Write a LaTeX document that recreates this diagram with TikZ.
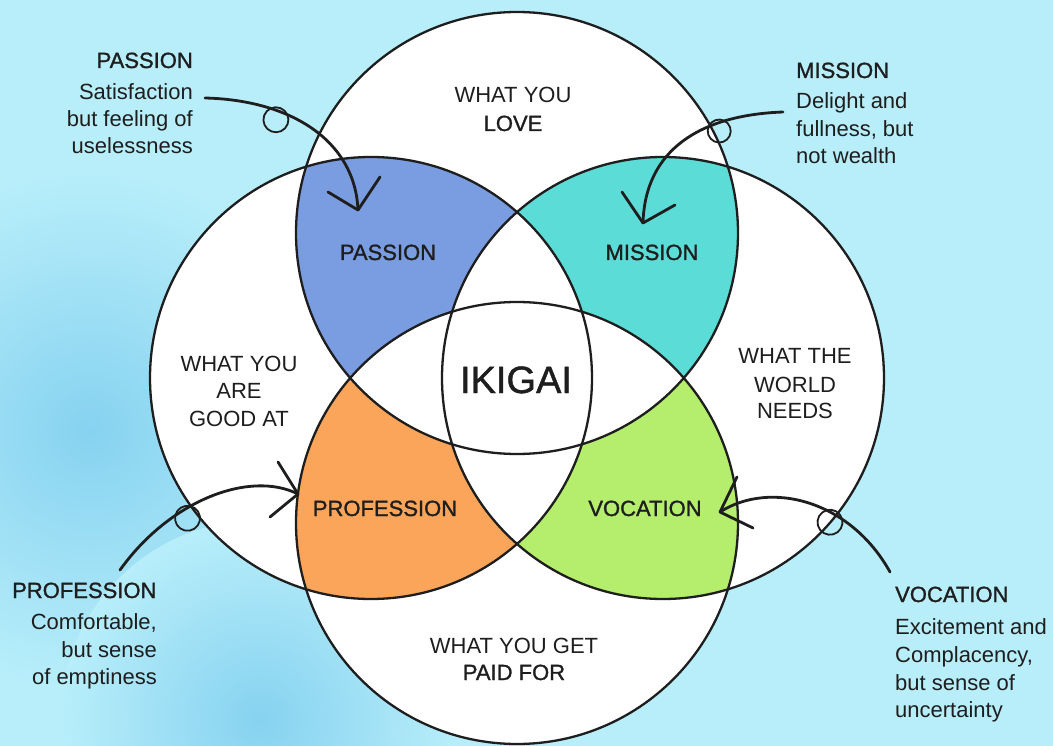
\documentclass[tikz,border=0pt]{standalone}
\usepackage{fontspec}
\setmainfont{Liberation Sans}
\newfontfamily\medfont[FakeBold=1.2]{Liberation Sans}
\definecolor{bg}{HTML}{B8EEFA}
\definecolor{bgdark}{HTML}{86D2F0}
\definecolor{passionc}{HTML}{7A9CE0}
\definecolor{missionc}{HTML}{5CDCD6}
\definecolor{professionc}{HTML}{FAA55A}
\definecolor{vocationc}{HTML}{B4EE6C}
\definecolor{ink}{HTML}{1E1E1E}
\begin{document}
\begin{tikzpicture}[x=1pt,y=-1pt,
  ring/.style={draw=ink,line width=2.3pt},
  arrowline/.style={draw=ink,line width=2.8pt,line cap=round,line join=round},
  curl/.style={draw=ink,line width=1.8pt,circle,inner sep=0pt,outer sep=-3.5pt,minimum size=#1,sloped,anchor=north},
  txt/.style={inner sep=0pt,text=ink,font=\fontsize{22}{27}\selectfont},
  medtxt/.style={inner sep=0pt,text=ink,font=\medfont\fontsize{22}{27}\selectfont},
  bigtxt/.style={inner sep=0pt,text=ink,font=\medfont\fontsize{38}{40}\selectfont}]
\useasboundingbox (0,0) rectangle (1053,746);
% background
\fill[bg] (0,0) rectangle (1053,746);
\shade[inner color=bgdark,outer color=bg] (90,430) circle[radius=260pt];
\shade[inner color=bgdark,outer color=bg] (260,720) circle[radius=200pt];
% circle centres
\coordinate (cT) at (517,233);
\coordinate (cL) at (371,378);
\coordinate (cR) at (663,378);
\coordinate (cB) at (517,523);
\def\Rad{221pt}
% white discs
\foreach \c in {cT,cL,cR,cB} \fill[white] (\c) circle[radius=\Rad];
% coloured pair regions
\begin{scope}
  \clip (cT) circle[radius=\Rad];
  \fill[passionc] (cL) circle[radius=\Rad];
  \fill[missionc] (cR) circle[radius=\Rad];
\end{scope}
\begin{scope}
  \clip (cB) circle[radius=\Rad];
  \fill[professionc] (cL) circle[radius=\Rad];
  \fill[vocationc] (cR) circle[radius=\Rad];
\end{scope}
% triple / quadruple overlaps stay white
\begin{scope}
  \clip (cL) circle[radius=\Rad];
  \fill[white] (cR) circle[radius=\Rad];
\end{scope}
\begin{scope}
  \clip (cT) circle[radius=\Rad];
  \fill[white] (cB) circle[radius=\Rad];
\end{scope}
% outlines
\foreach \c in {cT,cL,cR,cB} \draw[ring] (\c) circle[radius=\Rad];

% circle labels
\node[txt,anchor=base] (love1) at (513,103) {WHAT YOU};
\node[medtxt,anchor=base] (love2) at (513,131) {LOVE};
\node[txt,anchor=base] (good1) at (239,371) {WHAT YOU};
\node[txt,anchor=base] (good2) at (239,398) {ARE};
\node[txt,anchor=base] (good3) at (239,426) {GOOD AT};
\node[txt,anchor=base] (world1) at (795,363) {WHAT THE};
\node[txt,anchor=base] (world2) at (795,392) {WORLD};
\node[txt,anchor=base] (world3) at (795,418) {NEEDS};
\node[txt,anchor=base] (paid1) at (514,653) {WHAT YOU GET};
\node[medtxt,anchor=base] (paid2) at (514,680) {PAID FOR};
% region labels
\node[medtxt,anchor=base] (lpassion) at (388,260) {PASSION};
\node[medtxt,anchor=base] (lmission) at (652,260) {MISSION};
\node[medtxt,anchor=base] (lprofession) at (385,516) {PROFESSION};
\node[medtxt,anchor=base] (lvocation) at (645,516) {VOCATION};
\node[bigtxt,anchor=base] (ikigai) at (516,393) {IKIGAI};

% outside captions
\node[medtxt,anchor=base east] (hpassion) at (193,68) {PASSION};
\node[txt,anchor=base east] (tp1) at (193,100) {Satisfaction};
\node[txt,anchor=base east] (tp2) at (193,127) {but feeling of};
\node[txt,anchor=base east] (tp3) at (193,154) {uselessness};

\node[medtxt,anchor=base west] (hmission) at (796,78) {MISSION};
\node[txt,anchor=base west] (tm1) at (796,109) {Delight and};
\node[txt,anchor=base west] (tm2) at (796,137) {fullness, but};
\node[txt,anchor=base west] (tm3) at (796,164) {not wealth};

\node[medtxt,anchor=base west] (hprofession) at (12,598) {PROFESSION};
\node[txt,anchor=base east] (tf1) at (157,629) {Comfortable,};
\node[txt,anchor=base east] (tf2) at (157,657) {but sense};
\node[txt,anchor=base east] (tf3) at (157,684) {of emptiness};

\node[medtxt,anchor=base west] (hvocation) at (895,602) {VOCATION};
\node[txt,anchor=base west] (tv1) at (895,634) {Excitement and};
\node[txt,anchor=base west] (tv2) at (895,662) {Complacency,};
\node[txt,anchor=base west] (tv3) at (895,690) {but sense of};
\node[txt,anchor=base west] (tv4) at (895,717) {uncertainty};

% hand-drawn arrows
\coordinate (pS) at (205,98);
\coordinate (pT) at (358,210);
\coordinate (pA1) at (328,192);
\coordinate (pA2) at (380,177);
\draw[arrowline] (pS) .. controls (290,100) and (355,140) .. node[curl=25pt,pos=0.32] (pL) {} (pT);
\draw[arrowline] (pA1) -- (pT) -- (pA2);

\coordinate (mS) at (783,112);
\coordinate (mT) at (643,223);
\coordinate (mA1) at (622,192);
\coordinate (mA2) at (675,205);
\draw[arrowline] (mS) .. controls (700,115) and (645,150) .. node[curl=23pt,pos=0.3] (mL) {} (mT);
\draw[arrowline] (mA1) -- (mT) -- (mA2);

\coordinate (fS) at (120,570);
\coordinate (fT) at (298,494);
\coordinate (fA1) at (278,462);
\coordinate (fA2) at (270,517);
\draw[arrowline] (fS) .. controls (170,500) and (250,470) .. node[curl=25pt,pos=0.36] (fL) {} (fT);
\draw[arrowline] (fA1) -- (fT) -- (fA2);

\coordinate (vS) at (890,572);
\coordinate (vT) at (720,512);
\coordinate (vA1) at (737,477);
\coordinate (vA2) at (753,528);
\draw[arrowline] (vS) .. controls (850,500) and (770,480) .. node[curl=25pt,pos=0.36] (vL) {} (vT);
\draw[arrowline] (vA1) -- (vT) -- (vA2);
\end{tikzpicture}
\end{document}
